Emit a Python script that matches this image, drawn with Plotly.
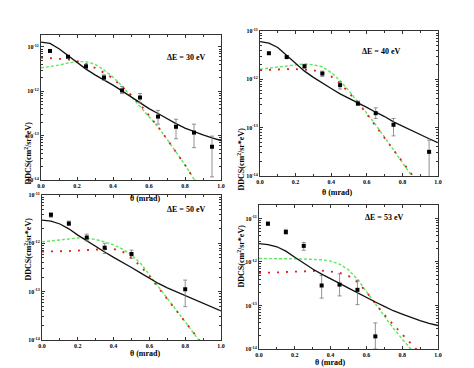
import numpy as np
import plotly.graph_objects as go

W, H = 474, 368

# ---------------- data (log10 of DDCS, cm^2/sr/eV) ----------------
theta_curve = [0.00, 0.05, 0.10, 0.15, 0.20, 0.25, 0.30, 0.35, 0.40, 0.45, 0.50,
               0.55, 0.60, 0.65, 0.70, 0.75, 0.80, 0.85, 0.90, 0.95, 1.00]
theta_model = [0.00, 0.05, 0.10, 0.15, 0.20, 0.25, 0.30, 0.35, 0.40, 0.45, 0.50,
               0.55, 0.60, 0.65, 0.70, 0.75, 0.80, 0.85, 0.90]

# panel dE = 30 eV
black_30 = [-10.89, -10.92, -11.04, -11.20, -11.35, -11.50, -11.63, -11.74, -11.86, -11.99, -12.13,
            -12.27, -12.39, -12.50, -12.62, -12.73, -12.83, -12.91, -12.98, -13.05, -13.11]
red_30 = [-11.24, -11.25, -11.26, -11.28, -11.32, -11.38, -11.47, -11.58, -11.71, -11.89, -12.08,
          -12.29, -12.54, -12.80, -13.08, -13.36, -13.66, -13.98, -14.30]
green_30 = [-11.47, -11.44, -11.41, -11.36, -11.33, -11.33, -11.39, -11.52, -11.68, -11.88, -12.11,
            -12.33, -12.56, -12.80, -13.08, -13.36, -13.66, -13.98, -14.30]
exp_theta_30 = [0.05, 0.15, 0.25, 0.35, 0.45, 0.55, 0.65, 0.75, 0.85, 0.95]
exp_30 = [-11.09, -11.22, -11.44, -11.69, -11.98, -12.14, -12.57, -12.80, -12.93, -13.25]
exp_hi_30 = [-11.07, -11.20, -11.39, -11.63, -11.89, -12.05, -12.43, -12.63, -12.74, -13.01]
exp_lo_30 = [-11.11, -11.24, -11.48, -11.75, -12.05, -12.26, -12.74, -13.07, -13.27, -13.93]

# panel dE = 40 eV
black_40 = [-11.22, -11.25, -11.34, -11.50, -11.67, -11.83, -11.96, -12.08, -12.19, -12.30, -12.39,
            -12.48, -12.58, -12.68, -12.77, -12.88, -12.97, -13.06, -13.15, -13.23, -13.31]
red_40 = [-11.81, -11.80, -11.79, -11.79, -11.79, -11.80, -11.81, -11.86, -11.94, -12.08, -12.27,
          -12.48, -12.72, -12.96, -13.22, -13.46, -13.70, -13.94, -14.20]
green_40 = [-11.79, -11.77, -11.75, -11.72, -11.70, -11.68, -11.70, -11.74, -11.86, -12.03, -12.24,
            -12.46, -12.70, -12.94, -13.21, -13.46, -13.72, -13.98, -14.25]
exp_theta_40 = [0.05, 0.15, 0.25, 0.35, 0.45, 0.55, 0.65, 0.75, 0.95]
exp_40 = [-11.46, -11.54, -11.73, -11.88, -12.12, -12.50, -12.70, -12.94, -13.50]
exp_hi_40 = [-11.44, -11.52, -11.69, -11.83, -12.05, -12.45, -12.59, -12.81, -13.26]
exp_lo_40 = [-11.48, -11.56, -11.77, -11.94, -12.20, -12.54, -12.81, -13.17, -14.50]

# panel dE = 50 eV
black_50 = [-11.52, -11.54, -11.60, -11.70, -11.83, -11.95, -12.07, -12.18, -12.29, -12.39, -12.50,
            -12.61, -12.72, -12.83, -12.92, -13.00, -13.08, -13.17, -13.25, -13.32, -13.40]
red_50 = [-12.17, -12.17, -12.17, -12.16, -12.15, -12.14, -12.12, -12.12, -12.12, -12.17, -12.30,
          -12.47, -12.68, -12.92, -13.14, -13.38, -13.62, -13.86, -14.10]
green_50 = [-11.97, -11.95, -11.93, -11.90, -11.89, -11.90, -11.92, -11.97, -12.03, -12.12, -12.24,
            -12.41, -12.66, -12.90, -13.14, -13.38, -13.62, -13.88, -14.12]
exp_theta_50 = [0.05, 0.15, 0.25, 0.35, 0.50, 0.80]
exp_50 = [-11.41, -11.59, -11.88, -12.09, -12.22, -12.95]
exp_hi_50 = [-11.37, -11.54, -11.81, -12.00, -12.14, -12.76]
exp_lo_50 = [-11.46, -11.63, -11.95, -12.21, -12.31, -13.31]

# panel dE = 53 eV
black_53 = [-11.58, -11.60, -11.65, -11.75, -11.89, -12.03, -12.16, -12.28, -12.38, -12.49, -12.60,
            -12.71, -12.82, -12.92, -13.02, -13.12, -13.20, -13.28, -13.35, -13.41, -13.46]
red_53 = [-12.25, -12.25, -12.24, -12.23, -12.22, -12.21, -12.20, -12.20, -12.22, -12.25, -12.32,
          -12.46, -12.69, -12.96, -13.21, -13.44, -13.65, -13.88, -14.10]
green_53 = [-11.92, -11.92, -11.92, -11.92, -11.93, -11.93, -11.94, -11.95, -11.98, -12.05, -12.18,
            -12.40, -12.68, -12.96, -13.25, -13.52, -13.77, -14.00, -14.25]
exp_theta_53 = [0.05, 0.15, 0.25, 0.35, 0.45, 0.55, 0.65]
exp_53 = [-11.12, -11.31, -11.63, -12.54, -12.52, -12.64, -13.71]
exp_hi_53 = [-11.08, -11.25, -11.55, -12.31, -12.27, -12.42, -13.40]
exp_lo_53 = [-11.15, -11.36, -11.73, -12.83, -12.78, -12.98, -14.00]

labels = ["\u0394E = 30 eV", "\u0394E = 40 eV", "\u0394E = 50 eV", "\u0394E = 53 eV"]
x_ticks = [0.0, 0.2, 0.4, 0.6, 0.8, 1.0]
x_tick_text = ["0.0", "0.2", "0.4", "0.6", "0.8", "1.0"]
y_exps = [-14, -13, -12, -11]
y_tick_text = ["10<sup>-14</sup>", "10<sup>-13</sup>", "10<sup>-12</sup>", "10<sup>-11</sup>"]

# ---------------- layout geometry (pixels) ----------------
panels = [
    dict(box=(33, 213, 27, 172), ytop=-10.73, lab=(178, 43), xt=(120, 190), yt=(12, 112)),
    dict(box=(252, 430, 23, 168), ytop=-11.0, lab=(394, 37), xt=(347, 184), yt=(232, 118)),
    dict(box=(34, 213, 187, 332), ytop=-11.0, lab=(178, 201), xt=(120, 352), yt=(12, 275)),
    dict(box=(251, 430, 197, 341), ytop=-10.69, lab=(397, 209), xt=(340, 361), yt=(232, 282)),
]
series = [
    (black_30, red_30, green_30, exp_theta_30, exp_30, exp_hi_30, exp_lo_30),
    (black_40, red_40, green_40, exp_theta_40, exp_40, exp_hi_40, exp_lo_40),
    (black_50, red_50, green_50, exp_theta_50, exp_50, exp_hi_50, exp_lo_50),
    (black_53, red_53, green_53, exp_theta_53, exp_53, exp_hi_53, exp_lo_53),
]

FONT = "Liberation Serif"
fig = go.Figure()
minor_vals = [k * 10.0 ** e for e in range(-15, -9) for k in range(2, 10)]

annotations = []
for i, (p, s) in enumerate(zip(panels, series)):
    blk, red, grn, ex, ey, ehi, elo = s
    n = "" if i == 0 else str(i + 1)
    xa, ya = "x" + n, "y" + n
    l, r, t, b = p["box"]
    ey_v = 10.0 ** np.array(ey)
    hi_v = 10.0 ** np.array(ehi)
    lo_v = 10.0 ** np.array(elo)
    fig.add_trace(go.Scatter(x=theta_model, y=10.0 ** np.array(grn), mode="lines",
                             line=dict(color="#5ee85e", width=1.4, dash="3px,2px"),
                             xaxis=xa, yaxis=ya, showlegend=False))
    fig.add_trace(go.Scatter(x=theta_model, y=10.0 ** np.array(red), mode="lines",
                             line=dict(color="#e0201c", width=1.8, dash="2px,7px"),
                             xaxis=xa, yaxis=ya, showlegend=False))
    fig.add_trace(go.Scatter(x=theta_curve, y=10.0 ** np.array(blk), mode="lines",
                             line=dict(color="#111111", width=1.3),
                             xaxis=xa, yaxis=ya, showlegend=False))
    fig.add_trace(go.Scatter(x=ex, y=ey_v, mode="markers",
                             marker=dict(symbol="square", size=4, color="black"),
                             error_y=dict(type="data", symmetric=False,
                                          array=hi_v - ey_v, arrayminus=ey_v - lo_v,
                                          color="#777777", thickness=0.8, width=2),
                             xaxis=xa, yaxis=ya, showlegend=False))
    common = dict(showline=True, linecolor="#333333", linewidth=1, mirror="allticks",
                  ticks="inside", ticklen=3, tickcolor="#333333", showgrid=False, zeroline=False,
                  automargin=False,
                  tickfont=dict(family=FONT, size=6, color="black", weight="bold"))
    fig.update_layout(**{
        "xaxis" + n: dict(domain=[l / W, r / W], range=[0, 1.0], anchor=ya,
                          tickvals=x_ticks, ticktext=x_tick_text,
                          minor=dict(tickvals=[0.1, 0.3, 0.5, 0.7, 0.9], ticks="inside",
                                     ticklen=2, tickcolor="#333333"),
                          **common),
        "yaxis" + n: dict(domain=[1 - b / H, 1 - t / H], type="log", range=[-14, p["ytop"]],
                          anchor=xa, tickvals=[10.0 ** e for e in y_exps], ticktext=y_tick_text,
                          minor=dict(tickvals=minor_vals, ticks="inside", ticklen=2,
                                     tickcolor="#333333"),
                          **common),
    })
    annotations.append(dict(text="<b>" + labels[i] + "</b>", x=p["lab"][0] / W, y=1 - p["lab"][1] / H,
                            xref="paper", yref="paper", showarrow=False,
                            font=dict(family=FONT, size=8, color="black")))
    annotations.append(dict(text="<b>\u03b8 (mrad)</b>", x=p["xt"][0] / W, y=1 - p["xt"][1] / H,
                            xref="paper", yref="paper", showarrow=False,
                            font=dict(family=FONT, size=8, color="black")))
    annotations.append(dict(text="<b>DDCS(cm<sup>2</sup>/sr*eV)</b>", x=p["yt"][0] / W,
                            y=1 - p["yt"][1] / H, xref="paper", yref="paper", showarrow=False,
                            textangle=-90, font=dict(family=FONT, size=8, color="black")))

fig.update_layout(width=W, height=H, margin=dict(l=0, r=0, t=0, b=0),
                  paper_bgcolor="white", plot_bgcolor="white", annotations=annotations)
fig.write_html("out.html")
